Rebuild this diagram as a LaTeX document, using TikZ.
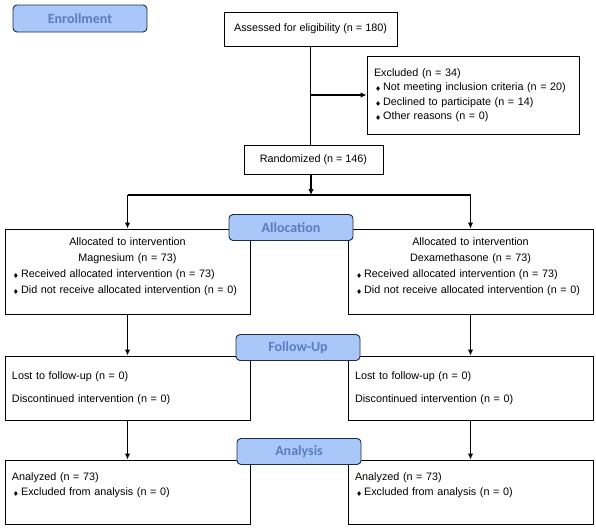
\documentclass[tikz,border=0pt]{standalone}
\usepackage{amssymb}
\usepackage{fontspec}
\setmainfont{Liberation Sans}
\newfontfamily\stagefont{Carlito}
\usetikzlibrary{arrows.meta}

\definecolor{stagefill}{HTML}{A9C7F8}
\definecolor{stagetext}{HTML}{5A7DBE}
\definecolor{stageline}{HTML}{1F2A44}

\newcommand{\bul}{\hspace{1.5pt}$\scriptscriptstyle\blacklozenge$\hspace{2.5pt}}

\tikzset{
	flowbox/.style={draw=black, line width=0.9pt, fill=white, inner xsep=7pt, inner ysep=3pt, align=left, font=\fontsize{10.8}{15}\selectfont},
	stagebox/.style={draw=stageline, line width=0.9pt, fill=stagefill, rounded corners=4pt, minimum width=124pt, minimum height=26pt, inner sep=0pt, text=stagetext, font=\stagefont\bfseries\fontsize{14}{14}\selectfont},
	flowline/.style={line width=1.3pt, color=black},
	flowarrow/.style={line width=1.3pt, color=black, -{Latex[length=6pt,width=5.5pt]}}
}

\begin{document}
\begin{tikzpicture}[x=1pt, y=-1pt]
	\useasboundingbox (0,0) rectangle (596,530);

	\node[flowbox, minimum width=173pt, minimum height=34pt](assess) at (310.5,29){Assessed for eligibility (n = 180)};
	\node[flowbox, text width=198pt, minimum height=78pt, font=\fontsize{10.8}{14.5}\selectfont](excl) at (473,95){Excluded (n = 34)\\ \bul Not meeting inclusion criteria (n = 20)\\ \bul Declined to participate (n = 14)\\ \bul Other reasons (n = 0)};
	\node[flowbox, minimum width=139pt, minimum height=29pt](rand) at (313.5,159.5){Randomized (n = 146)};
	\coordinate (split) at (311,195);

	\node[flowbox, text width=231pt, minimum height=85pt, font=\fontsize{10.8}{16}\selectfont](allocL) at (127.5,271.5){{\centering Allocated to intervention\\ Magnesium (n = 73)\par}\bul Received allocated intervention (n = 73)\\ \bul Did not receive allocated intervention (n = 0)\\[-4pt]\mbox{}};
	\node[flowbox, text width=231pt, minimum height=85pt, font=\fontsize{10.8}{16}\selectfont](allocR) at (470.5,271.5){{\centering Allocated to intervention\\ Dexamethasone (n = 73)\par}\bul Received allocated intervention (n = 73)\\ \bul Did not receive allocated intervention (n = 0)\\[-4pt]\mbox{}};

	\node[flowbox, text width=231pt, minimum height=64pt](followL) at (127.5,388){Lost to follow-up (n = 0)\\[8pt] Discontinued intervention (n = 0)};
	\node[flowbox, text width=231pt, minimum height=64pt](followR) at (470.5,388){Lost to follow-up (n = 0)\\[8pt] Discontinued intervention (n = 0)};

	\node[flowbox, text width=231pt, minimum height=64pt](analL) at (127.5,492){Analyzed (n = 73)\\ \bul Excluded from analysis (n = 0)\\ \mbox{}};
	\node[flowbox, text width=231pt, minimum height=64pt](analR) at (470.5,492){Analyzed (n = 73)\\ \bul Excluded from analysis (n = 0)\\ \mbox{}};

	\draw [flowline] (assess.south) -- (assess.south |- rand.north);
	\draw [flowarrow] (assess.south |- excl.west) -- (excl.west);
	\draw [flowarrow] (rand.south -| split) -- (split);
	\draw [flowline] (allocL.north |- split) -- (allocR.north |- split);
	\draw [flowarrow] (allocL.north |- split) -- (allocL.north);
	\draw [flowarrow] (allocR.north |- split) -- (allocR.north);
	\draw [flowarrow] (allocL.south) -- (followL.north);
	\draw [flowarrow] (allocR.south) -- (followR.north);
	\draw [flowarrow] (followL.south) -- (analL.north);
	\draw [flowarrow] (followR.south) -- (analR.north);

	\node[stagebox, minimum width=134pt, minimum height=27pt](enroll) at (80,18.5){Enrollment};
	\node[stagebox](alloc) at (291,227.5){Allocation};
	\node[stagebox](follow) at (298,347.5){Follow-Up};
	\node[stagebox](anal) at (299,451.5){Analysis};
\end{tikzpicture}
\end{document}
